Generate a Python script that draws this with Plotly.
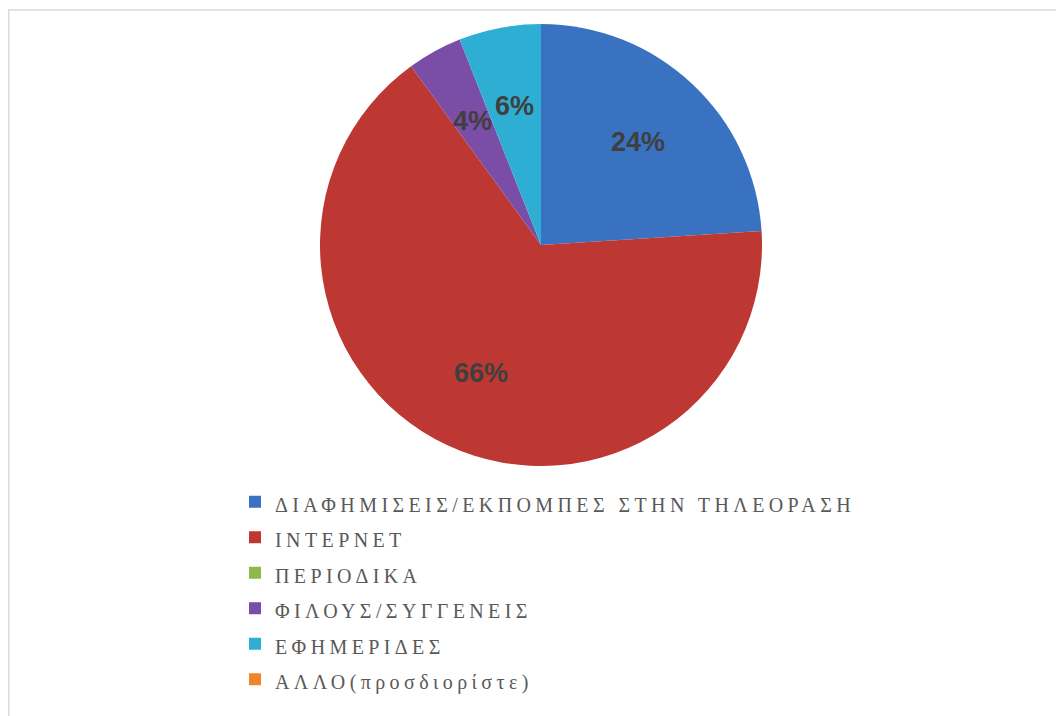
import math
import plotly.graph_objects as go

categories = [
    "ΔΙΑΦΗΜΙΣΕΙΣ/ΕΚΠΟΜΠΕΣ ΣΤΗΝ ΤΗΛΕΟΡΑΣΗ",
    "ΙΝΤΕΡΝΕΤ",
    "ΠΕΡΙΟΔΙΚΑ",
    "ΦΙΛΟΥΣ/ΣΥΓΓΕΝΕΙΣ",
    "ΕΦΗΜΕΡΙΔΕΣ",
    "ΑΛΛΟ(προσδιορίστε)",
]
values = [24, 66, 0, 4, 6, 0]
colors = ["#3A72C2", "#BD3833", "#8DB84A", "#7A4EA6", "#2FAED3", "#F0862C"]

# page body has an 8px margin: figure sized/placed to fit the 1064x716 window
OFF = 8
W, H = 1064 - OFF, 716 - OFF
cx, cy, r = 541 - OFF, 245 - OFF, 221
LABEL_R = 0.64  # data labels placed at this fraction of the radius

span = ('<span style="font-family:\'Liberation Serif\', serif; font-size:20px; '
        'letter-spacing:4.4px">{}</span>')

fig = go.Figure(
    go.Pie(
        labels=[span.format(c) for c in categories],
        values=values,
        marker=dict(colors=colors, line=dict(width=0)),
        sort=False,
        direction="clockwise",
        rotation=0,
        textinfo="none",
        showlegend=True,
        hoverinfo="label+percent",
        domain=dict(
            x=[(cx - r) / W, (cx + r) / W],
            y=[1 - (cy + r) / H, 1 - (cy - r) / H],
        ),
    )
)

# percentage data labels at the middle angle of each slice
total = sum(values)
annotations = []
cum = 0.0
for v in values:
    if v > 0:
        theta = 2 * math.pi * (cum + v / 2) / total
        px = cx + LABEL_R * r * math.sin(theta)
        py = cy - LABEL_R * r * math.cos(theta)
        annotations.append(dict(
            x=px / W, y=1 - py / H, xref="paper", yref="paper",
            text=f"{round(100 * v / total)}%", showarrow=False,
            font=dict(family="Liberation Sans, Arial, sans-serif", size=27,
                      color="#3F3F3F", weight="bold"),
            xanchor="center", yanchor="middle",
        ))
    cum += v

fig.update_layout(
    width=W,
    height=H,
    margin=dict(l=0, r=0, t=0, b=0),
    paper_bgcolor="white",
    plot_bgcolor="white",
    annotations=annotations,
    legend=dict(
        x=(235 - OFF) / W,
        y=1 - (479 - OFF) / H,
        xanchor="left",
        yanchor="top",
        font=dict(family="Liberation Serif, serif", size=25, color="#595959"),
        itemwidth=30,
        bgcolor="rgba(0,0,0,0)",
    ),
    shapes=[
        dict(
            type="rect", xref="paper", yref="paper",
            x0=0.8 / W, x1=(1062 - OFF) / W, y0=-0.01, y1=1 - (10 - OFF) / H,
            line=dict(color="#D9D9D9", width=1.5), fillcolor="rgba(0,0,0,0)",
        )
    ],
)

fig.write_html("out.html")
